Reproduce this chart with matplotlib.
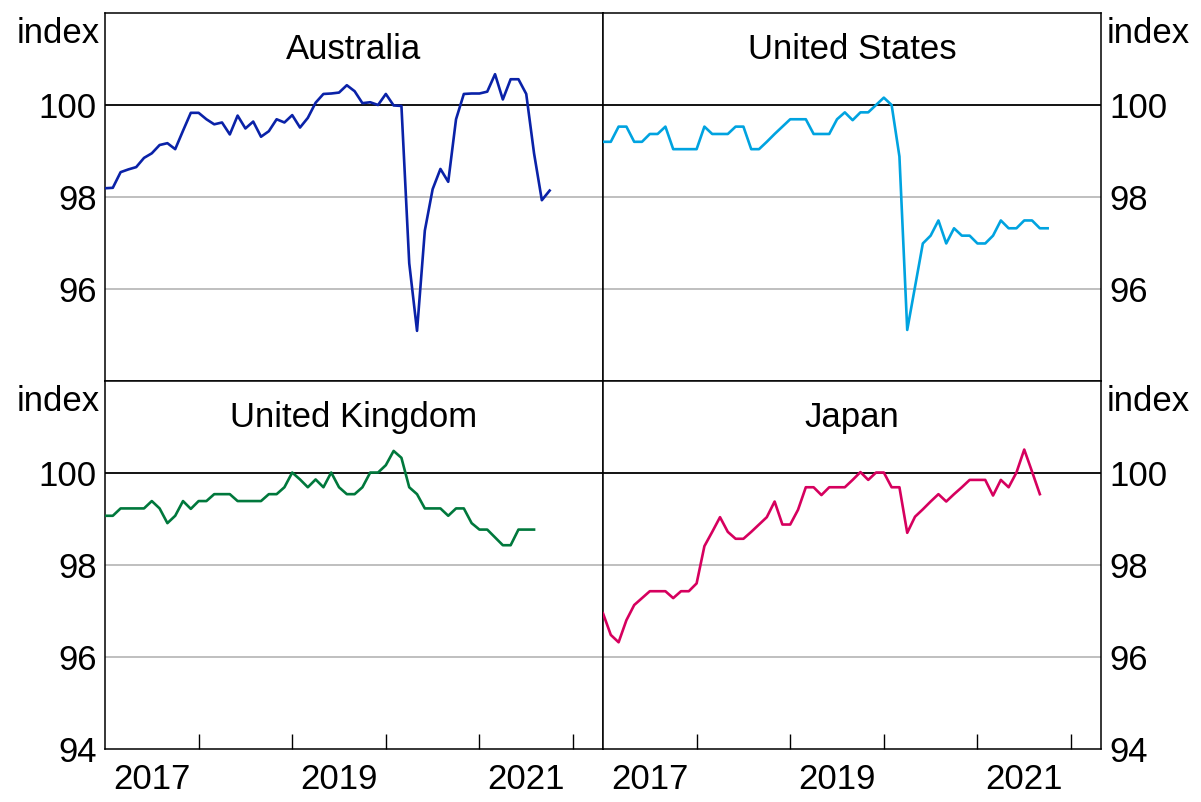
import matplotlib
matplotlib.use('Agg')
import matplotlib.pyplot as plt
import numpy as np

plt.rcParams['font.family'] = ['Liberation Sans', 'DejaVu Sans']

# monthly index values, Jan 2017 onwards
australia = [98.19, 98.20, 98.54, 98.60, 98.65, 98.85, 98.95, 99.13, 99.17, 99.04,
             99.44, 99.83, 99.83, 99.69, 99.58, 99.62, 99.36, 99.77, 99.49, 99.64,
             99.31, 99.43, 99.69, 99.62, 99.78, 99.51, 99.72, 100.05, 100.24, 100.25,
             100.27, 100.43, 100.30, 100.04, 100.06, 100.00, 100.24, 99.99, 99.98, 96.56,
             95.09, 97.27, 98.17, 98.61, 98.33, 99.69, 100.24, 100.25, 100.25, 100.29,
             100.67, 100.12, 100.56, 100.56, 100.24, 98.95, 97.93, 98.14]
united_states = [99.20, 99.20, 99.53, 99.53, 99.20, 99.20, 99.37, 99.37, 99.53, 99.04,
                 99.04, 99.04, 99.04, 99.53, 99.37, 99.37, 99.37, 99.53, 99.53, 99.04,
                 99.04, 99.20, 99.37, 99.53, 99.69, 99.69, 99.69, 99.37, 99.37, 99.37,
                 99.69, 99.84, 99.67, 99.84, 99.84, 100.00, 100.16, 100.00, 98.88, 95.11,
                 96.05, 96.99, 97.16, 97.49, 96.99, 97.32, 97.16, 97.16, 96.99, 96.99,
                 97.16, 97.49, 97.32, 97.32, 97.49, 97.49, 97.32, 97.32]
united_kingdom = [99.07, 99.07, 99.23, 99.23, 99.23, 99.23, 99.39, 99.23, 98.91, 99.07,
                  99.39, 99.22, 99.39, 99.39, 99.54, 99.54, 99.54, 99.39, 99.39, 99.39,
                  99.39, 99.54, 99.54, 99.69, 100.01, 99.86, 99.69, 99.86, 99.69, 100.01,
                  99.69, 99.54, 99.54, 99.69, 100.01, 100.01, 100.17, 100.48, 100.33, 99.69,
                  99.54, 99.23, 99.23, 99.23, 99.07, 99.23, 99.23, 98.91, 98.77, 98.77,
                  98.60, 98.43, 98.43, 98.77, 98.77, 98.77]
japan = [96.95, 96.48, 96.32, 96.80, 97.13, 97.28, 97.43, 97.43, 97.43, 97.28,
         97.43, 97.43, 97.60, 98.41, 98.72, 99.04, 98.72, 98.57, 98.57, 98.72,
         98.88, 99.04, 99.38, 98.88, 98.88, 99.20, 99.69, 99.69, 99.52, 99.69,
         99.69, 99.69, 99.85, 100.02, 99.85, 100.01, 100.01, 99.69, 99.69, 98.70,
         99.05, 99.21, 99.38, 99.54, 99.38, 99.54, 99.69, 99.85, 99.85, 99.85,
         99.51, 99.85, 99.69, 100.01, 100.51, 100.03, 99.54]

titles = ['Australia', 'United States', 'United Kingdom', 'Japan']
series = [australia, united_states, united_kingdom, japan]
colors = ['#0a22a8', '#00a3e0', '#00783c', '#d6005e']
year_labels = ['2017', '2019', '2021']
year_label_pos = [2017.5, 2019.5, 2021.5]
year_ticks = [2018, 2019, 2020, 2021, 2022]

W, H = 1201, 802
fig = plt.figure(figsize=(W / 100, H / 100), dpi=100)

left_x = [105, 603]
top_y = [13, 381]
pw, ph = 498, 368
fs = 25

for k in range(4):
    row, col = divmod(k, 2)
    x0 = left_x[col]
    y0 = top_y[row]
    ax = fig.add_axes([x0 / W, 1 - (y0 + ph) / H, pw / W, ph / H])
    vals = series[k]
    t = 2017 + np.arange(len(vals)) / 12
    ax.plot(t, vals, color=colors[k], lw=1.9, zorder=3)
    ax.set_xlim(2017.0, 2022.32)
    ax.set_ylim(94, 102)
    for v in [96, 98]:
        ax.axhline(v, color='#b4b4b4', lw=1.2, zorder=1)
    ax.axhline(100, color='black', lw=1.3, zorder=2)
    for s in ax.spines.values():
        s.set_linewidth(1.1)

    if row == 0:
        ax.set_yticks([96, 98, 100])
    else:
        ax.set_yticks([94, 96, 98, 100])
    if col == 1:
        ax.yaxis.tick_right()
    ax.tick_params(axis='y', length=0, labelsize=fs, pad=6)

    if row == 1:
        ax.set_xticks(year_ticks)
        ax.set_xticklabels([])
        ax.set_xticks(year_label_pos, minor=True)
        ax.set_xticklabels(year_labels, minor=True)
        ax.tick_params(axis='x', which='major', direction='in', length=10.5, width=1.0)
        ax.tick_params(axis='x', which='minor', length=0, labelsize=fs, pad=10)
    else:
        ax.set_xticks([])

    ax.text(0.5, 0.876, titles[k], transform=ax.transAxes, ha='center',
            va='baseline', fontsize=fs)

    if col == 0:
        fig.text((x0 - 5) / W, 1 - (y0 + 30) / H, 'index', ha='right',
                 va='baseline', fontsize=fs)
    else:
        fig.text((x0 + pw + 6) / W, 1 - (y0 + 30) / H, 'index', ha='left',
                 va='baseline', fontsize=fs)

fig.savefig('out.png', dpi=100)
